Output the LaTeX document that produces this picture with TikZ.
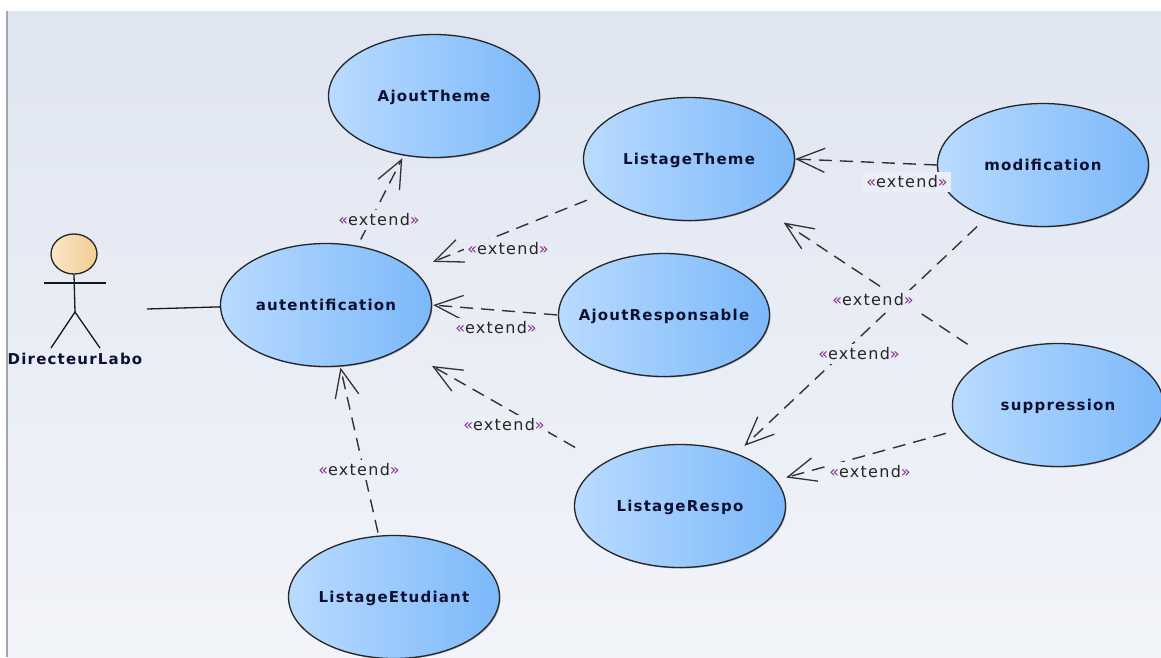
\documentclass[tikz,border=0pt]{standalone}
\usepackage{xcolor}
\usepackage{fontspec}
\setmainfont{DejaVu Sans}[LetterSpace=8]
\usetikzlibrary{arrows.meta,shapes.geometric,shadows}
\definecolor{bgtop}{HTML}{DFE5F1}
\definecolor{bgbottom}{HTML}{F2F4F9}
\definecolor{caseleft}{HTML}{B9DBFF}
\definecolor{casemid}{HTML}{A6D1FF}
\definecolor{caseright}{HTML}{7CB8FA}
\definecolor{headleft}{HTML}{FBE6C8}
\definecolor{headright}{HTML}{F2CE92}
\definecolor{guillemet}{HTML}{8A2A8A}
\definecolor{casetext}{HTML}{0E1030}
\newcommand{\extendtext}{{\color{guillemet}«}extend{\color{guillemet}»}}
\tikzset{
  usecase/.style={ellipse,draw=black!85,line width=1.3pt,minimum width=211pt,minimum height=123pt,inner xsep=-30pt,inner ysep=0pt,
    text height=10.5pt,text depth=0pt,
    left color=caseleft,middle color=casemid,right color=caseright,text=casetext,font=\fontsize{15}{16}\selectfont\bfseries,
    drop shadow={shadow xshift=1pt,shadow yshift=-1pt,opacity=.3,fill=black}},
  extendline/.style={-{Straight Barb[length=28pt,width=24pt,line width=1.3pt]},line width=1.4pt,black!80,dash pattern=on 13pt off 8pt},
  extendlabel/.style={inner sep=1pt,minimum width=88pt,minimum height=20pt,text=black!85,font=\fontsize{16}{17}\selectfont},
  actorline/.style={line width=1.3pt,black!90}
}
\begin{document}
\begin{tikzpicture}[x=1pt,y=-1pt]
  \useasboundingbox (0,0) rectangle (1161,657);
  % background
  \fill[white] (0,0) rectangle (1161,657);
  \fill[top color=bgtop,bottom color=bgbottom] (7,11) rectangle (1161,657);
  \fill[black!35] (6,11) rectangle (8,657);
  % use cases
  \node[usecase] (AjoutTheme) at (434,96) {AjoutTheme};
  \node[usecase] (ListageTheme) at (689,159) {ListageTheme};
  \node[usecase] (modification) at (1043,165) {modification};
  \node[usecase] (autentification) at (326,305) {autentification};
  \node[usecase] (AjoutResponsable) at (664,315) {AjoutResponsable};
  \node[usecase] (suppression) at (1058,405) {suppression};
  \node[usecase] (ListageRespo) at (680,506) {ListageRespo};
  \node[usecase] (ListageEtudiant) at (394,597) {ListageEtudiant};
  % actor
  \node[ellipse,draw=black!85,line width=1.3pt,minimum width=46pt,minimum height=40pt,left color=headleft,right color=headright] (head) at (74,254) {};
  \coordinate (armL) at (44,283);
  \coordinate (armR) at (106,283);
  \coordinate (hip) at (75,312);
  \coordinate (footL) at (51,348);
  \coordinate (footR) at (100,348);
  \coordinate (hand) at (147,309);
  \draw[actorline] (head.south) -- (hip);
  \draw[actorline] (armL) -- (armR);
  \draw[actorline] (footL) -- (hip) -- (footR);
  \node[text=casetext,font=\fontsize{15}{16}\selectfont\bfseries] (DirecteurLabo) at (75,359) {DirecteurLabo};
  \draw[actorline] (hand) -- (autentification.181);
  % extend links
  \draw[extendline,shorten <=7pt,shorten >=3pt] (autentification.62) -- (AjoutTheme.243);
  \draw[extendline,shorten <=16pt,shorten >=21pt] (ListageTheme.202) -- (autentification.22);
  \draw[extendline,shorten <=1pt,shorten >=1pt] (AjoutResponsable.west) -- (autentification.east);
  \draw[extendline,shorten <=32pt,shorten >=35pt] (ListageRespo.151) -- (autentification.330);
  \draw[extendline,shorten <=3pt,shorten >=1pt] (ListageEtudiant.104) -- (autentification.283);
  \draw[extendline] (modification.west) -- (ListageTheme.east);
  \draw[extendline,shorten <=13pt,shorten >=11pt] (modification.223) -- (ListageRespo.43);
  \draw[extendline,shorten <=25pt,shorten >=30pt] (suppression.146) -- (ListageTheme.326);
  \draw[extendline,shorten <=15pt,shorten >=10pt] (suppression.194) -- (ListageRespo.15);
  % labels
  \node[extendlabel,fill=bgbottom!32!bgtop] (ext1) at (379,220) {\extendtext};
  \node[extendlabel,fill=bgbottom!37!bgtop] (ext2) at (508,249) {\extendtext};
  \node[extendlabel,fill=bgbottom!49!bgtop] (ext3) at (496,328) {\extendtext};
  \node[extendlabel,fill=bgbottom!64!bgtop] (ext4) at (504,425) {\extendtext};
  \node[extendlabel,fill=bgbottom!71!bgtop] (ext5) at (359,470) {\extendtext};
  \node[extendlabel,fill=bgbottom!60!bgtop] (ext6) at (907,182) {\extendtext};
  \node[extendlabel,fill=bgbottom!53!bgtop] (ext7) at (859,354) {\extendtext};
  \node[extendlabel,fill=bgbottom!45!bgtop] (ext8) at (873,300) {\extendtext};
  \node[extendlabel,fill=bgbottom!71!bgtop] (ext9) at (870,472) {\extendtext};
\end{tikzpicture}
\end{document}
